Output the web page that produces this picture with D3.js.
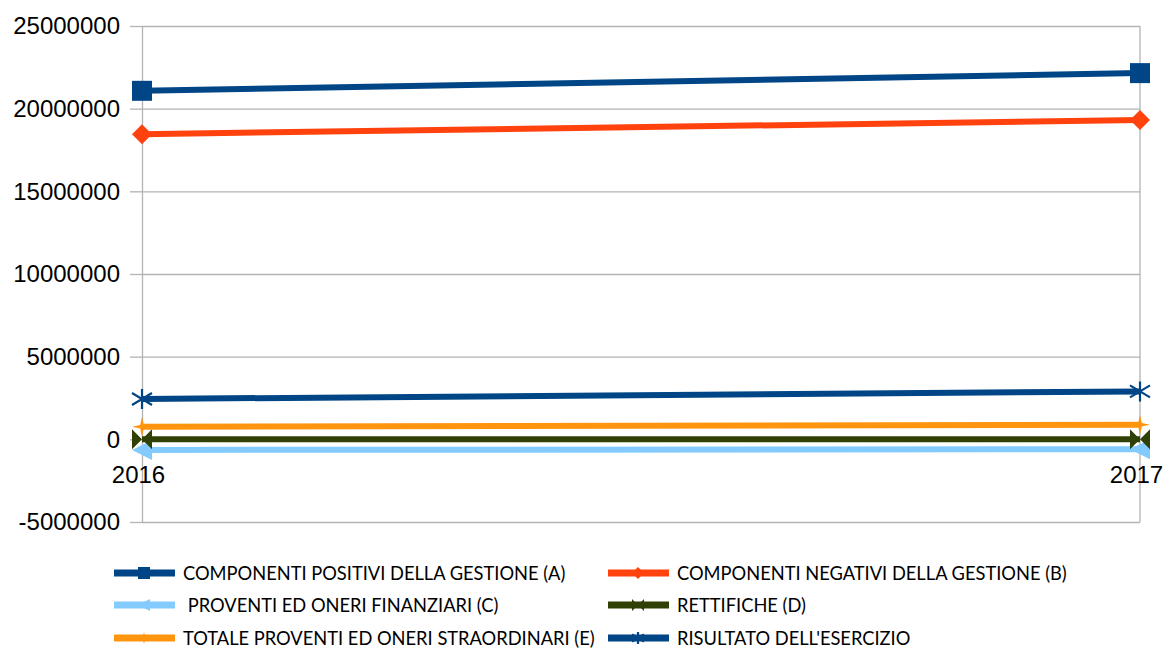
<!DOCTYPE html>
<html>
<head>
<meta charset="utf-8">
<script src="https://cdn.jsdelivr.net/npm/d3@7"></script>
<style>
  body { margin: 0; background: #fff; }
  svg { display: block; }
</style>
</head>
<body>
<div id="chart"></div>
<script>
// Conto economico 2016-2017, line chart
var years = ['2016', '2017'];
var yTicks = [-5000000, 0, 5000000, 10000000, 15000000, 20000000, 25000000];

var seriesNames = [
    'COMPONENTI POSITIVI DELLA GESTIONE (A)',
    'COMPONENTI NEGATIVI DELLA GESTIONE (B)',
    ' PROVENTI ED ONERI FINANZIARI (C)',
    'RETTIFICHE (D)',
    'TOTALE PROVENTI ED ONERI STRAORDINARI (E)',
    "RISULTATO DELL'ESERCIZIO"
];
var positivi = [21080000, 22150000];
var negativi = [18460000, 19310000];
var finanziari = [-640000, -600000];
var rettifiche = [0, 0];
var straordinari = [760000, 880000];
var risultato = [2440000, 2900000];

var seriesValues = [positivi, negativi, finanziari, rettifiche, straordinari, risultato];
var seriesColors = ['#004586', '#ff420e', '#83caff', '#314004', '#ff950e', '#004586'];
var seriesMarkers = ['square', 'diamond', 'arrow', 'bowtie', 'star', 'asterisk'];

var W = 1165, H = 648;
var svg = d3.select('#chart').append('svg').attr('width', W).attr('height', H);

var x = d3.scalePoint().domain(years).range([142, 1140]).padding(0);
var y = d3.scaleLinear().domain([-5000000, 25000000]).range([522, 26]);

// grid
svg.append('g').attr('transform', 'translate(142,0)')
    .call(d3.axisLeft(y).tickValues(yTicks).tickSize(-998).tickFormat(''))
    .call(function(g) { g.select('.domain').remove(); })
    .selectAll('line').attr('stroke', '#b3b3b3').attr('stroke-width', 1.3);
svg.append('line').attr('x1', 1140).attr('x2', 1140).attr('y1', y(25000000)).attr('y2', y(-5000000))
    .attr('stroke', '#b3b3b3').attr('stroke-width', 1.3);

// y axis
var yAxis = svg.append('g').attr('transform', 'translate(142,0)')
    .call(d3.axisLeft(y).tickValues(yTicks).tickSize(12).tickPadding(10).tickSizeOuter(0)
        .tickFormat(function(d) { return String(d); }));
yAxis.select('.domain').attr('stroke', '#b3b3b3').attr('stroke-width', 1.3);
yAxis.selectAll('line').attr('stroke', '#b3b3b3').attr('stroke-width', 1.3);
yAxis.selectAll('text').attr('font-family', '"Liberation Sans", Arial, sans-serif').attr('font-size', 24).attr('fill', '#000');

// x labels at the zero line
var xAxis = svg.append('g').attr('transform', 'translate(-4,' + y(0) + ')')
    .call(d3.axisBottom(x).tickSize(0).tickPadding(27));
xAxis.select('.domain').remove();
xAxis.selectAll('text').attr('font-family', '"Liberation Sans", Arial, sans-serif').attr('font-size', 24).attr('fill', '#000');

function markerPath(type, r) {
    var w = r * 0.18;
    if (type === 'square') return 'M' + -r + ',' + -r + 'H' + r + 'V' + r + 'H' + -r + 'Z';
    if (type === 'diamond') return 'M0,' + -r + 'L' + r + ',0L0,' + r + 'L' + -r + ',0Z';
    if (type === 'arrow') return 'M' + -r + ',0L' + r + ',' + -r + 'L' + r + ',' + r + 'Z';
    if (type === 'bowtie') return 'M' + -r + ',' + -r + 'L0,0L' + -r + ',' + r + 'Z' + 'M' + r + ',' + -r + 'L0,0L' + r + ',' + r + 'Z';
    if (type === 'star') return 'M0,' + -r + 'L' + w + ',' + -w + 'L' + r + ',0L' + w + ',' + w + 'L0,' + r + 'L' + -w + ',' + w + 'L' + -r + ',0L' + -w + ',' + -w + 'Z';
    return 'M0,' + -r + 'V' + r + 'M' + -r + ',' + -r * 0.6 + 'L' + r + ',' + r * 0.6 + 'M' + -r + ',' + r * 0.6 + 'L' + r + ',' + -r * 0.6;
}

function drawMarker(g, type, color, cx, cy, r) {
    var p = g.append('path').attr('d', markerPath(type, r)).attr('transform', 'translate(' + cx + ',' + cy + ')');
    if (type === 'asterisk') p.attr('fill', 'none').attr('stroke', color).attr('stroke-width', 2.2);
    else p.attr('fill', color);
}

var line = d3.line().x(function(d, i) { return x(years[i]); }).y(function(d) { return y(d); });
var plot = svg.append('g');
seriesValues.forEach(function(vals, s) {
    plot.append('path').datum(vals).attr('d', line).attr('fill', 'none')
        .attr('stroke', seriesColors[s]).attr('stroke-width', 6);
    vals.forEach(function(v, i) {
        drawMarker(plot, seriesMarkers[s], seriesColors[s], x(years[i]), y(v), 10);
    });
});

// legend
var legX = [114, 608], legY = [573, 605, 638];
var legend = svg.append('g');
seriesNames.forEach(function(name, s) {
    var lx = legX[s % 2], ly = legY[Math.floor(s / 2)];
    legend.append('line').attr('x1', lx).attr('x2', lx + 61).attr('y1', ly).attr('y2', ly)
        .attr('stroke', seriesColors[s]).attr('stroke-width', 7);
    drawMarker(legend, seriesMarkers[s], seriesColors[s], lx + 30, ly, 6);
    legend.append('text').attr('x', lx + 69).attr('y', ly + 6.5).style('white-space', 'pre')
        .attr('font-family', 'Lato, "Open Sans", sans-serif').attr('font-size', 18.3).attr('fill', '#000')
        .text(name);
});
</script>
</body>
</html>
